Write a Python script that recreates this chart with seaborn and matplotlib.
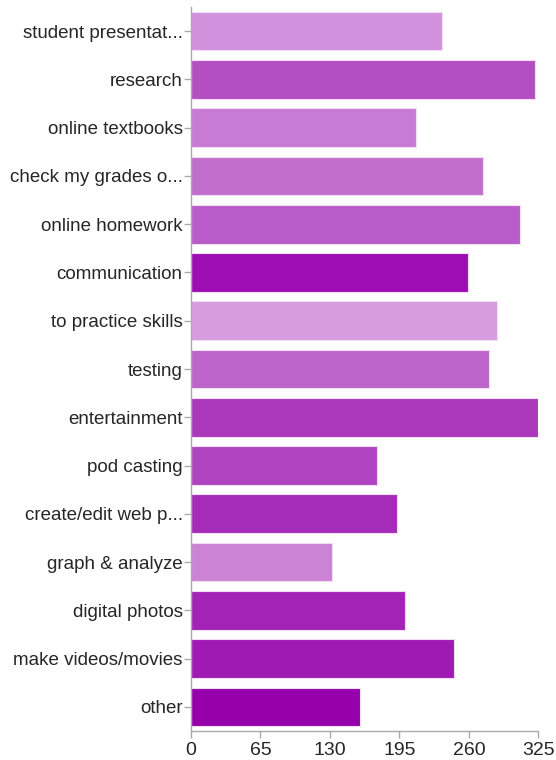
import matplotlib
matplotlib.use("Agg")
import matplotlib.pyplot as plt
import seaborn as sns
import pandas as pd

categories = ["student presentat...", "research", "online textbooks", "check my grades o...",
              "online homework", "communication", "to practice skills", "testing",
              "entertainment", "pod casting", "create/edit web p...", "graph & analyze",
              "digital photos", "make videos/movies", "other"]
counts = [235, 322, 211, 273, 308, 259, 286, 279, 325, 174, 193, 132, 200, 246, 158]
bar_colors = ["#d291dc", "#b44fc2", "#c87bd5", "#c26ecd", "#b95bc9", "#9c0eb4",
              "#d69cde", "#bd64ca", "#ab37bb", "#b044c0", "#a42cb8", "#cc83d5",
              "#a323b7", "#9f19b3", "#9500aa"]
x_ticks = [0, 65, 130, 195, 260, 325]

df = pd.DataFrame({"category": categories, "count": counts})

sns.set_style("white")
plt.rcParams['font.family'] = ['Liberation Sans', 'DejaVu Sans']

fig = plt.figure(figsize=(5.56, 7.6), dpi=100)
ax = fig.add_axes([191 / 556, 1 - 731 / 760, (538.3 - 191) / 556, 724 / 760])

sns.barplot(data=df, x="count", y="category", hue="category", palette=bar_colors,
            saturation=1, legend=False, width=0.8, edgecolor="#f0dcf3",
            linewidth=0.8, ax=ax)

ax.set_xlim(0, 325)
ax.set_xticks(x_ticks)
ax.set_xlabel("")
ax.set_ylabel("")
sns.despine(ax=ax, top=True, right=True)
for side in ["left", "bottom"]:
    ax.spines[side].set_color("#aaaaaa")
    ax.spines[side].set_linewidth(1)
ax.tick_params(axis="both", which="both", length=5, width=1, color="#aaaaaa",
               labelsize=13.5, labelcolor="#262626", pad=1)
ax.tick_params(axis="x", pad=3, labelsize=14)
ax.tick_params(left=True, bottom=True)

fig.savefig("out.png", dpi=100)
